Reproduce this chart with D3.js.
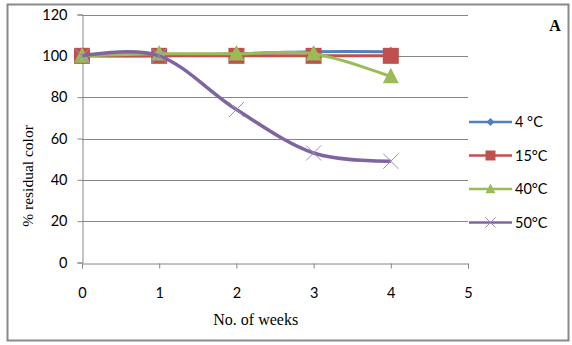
<!DOCTYPE html>
<html>
<head>
<meta charset="utf-8">
<script src="https://cdn.jsdelivr.net/npm/d3@7"></script>
<style>
  body { margin: 0; background: #fff; }
  svg { display: block; }
  .tick text { font-family: Lato, "Open Sans", sans-serif; font-size: 14.5px; fill: #000; }
</style>
</head>
<body>
<svg id="chart" width="572" height="345"></svg>
<script>
// weeks of storage and % residual colour at each temperature
const weeks = [0, 1, 2, 3, 4];
const temps = ["4 °C", "15°C", "40°C", "50°C"];
const c4 = [100, 100, 101, 102, 102];
const c15 = [100, 100, 100, 100, 100];
const c40 = [100, 101, 101, 101, 90];
const c50 = [100, 100, 74, 53, 49];
const yTicks = [0, 20, 40, 60, 80, 100, 120];
const xTicks = [0, 1, 2, 3, 4, 5];

const colors = ["#4F81BD", "#C0504D", "#9BBB59", "#8064A2"];
const shapes = ["diamond", "square", "triangle", "cross"];
const seriesVals = [c4, c15, c40, c50];

const svg = d3.select("#chart");

// outer frame
svg.append("rect")
  .attr("x", 7.5).attr("y", 4.5)
  .attr("width", 561).attr("height", 336)
  .attr("fill", "#fff").attr("stroke", "#8a8a8a").attr("stroke-width", 2);

const x = d3.scaleLinear().domain([0, 5]).range([82, 468]);
const y = d3.scaleLinear().domain([0, 120]).range([262.5, 14.5]);

// gridlines
svg.append("g")
  .selectAll("line")
  .data(yTicks.slice(1))
  .join("line")
  .attr("x1", x(0)).attr("x2", x(5))
  .attr("y1", d => Math.round(y(d)) + 0.5).attr("y2", d => Math.round(y(d)) + 0.5)
  .attr("stroke", "#868686").attr("stroke-width", 1);

// y axis
const yAxis = svg.append("g")
  .attr("transform", `translate(${x(0) + 0.5},0)`)
  .call(d3.axisLeft(y).tickValues(yTicks).tickSize(5).tickPadding(10));
yAxis.selectAll("line, path").attr("stroke", "#868686");

// x axis
const xAxis = svg.append("g")
  .attr("transform", `translate(0,${Math.round(y(0)) + 0.5})`)
  .call(d3.axisBottom(x).tickValues(xTicks).tickFormat(d3.format("d"))
    .tickSize(5).tickSizeOuter(5).tickPadding(19));
xAxis.selectAll("line, path").attr("stroke", "#868686");

// axis titles
svg.append("text")
  .attr("x", x(2.25)).attr("y", 325)
  .attr("text-anchor", "middle")
  .attr("font-family", "'Liberation Serif', 'Times New Roman', serif")
  .attr("font-size", 16)
  .text("No. of weeks");

svg.append("text")
  .attr("transform", "translate(33,176) rotate(-90)")
  .attr("text-anchor", "middle")
  .attr("font-family", "'Liberation Serif', 'Times New Roman', serif")
  .attr("font-size", 15.5)
  .text("% residual color");

svg.append("text")
  .attr("x", 555).attr("y", 31)
  .attr("text-anchor", "middle")
  .attr("font-family", "'Liberation Serif', 'Times New Roman', serif")
  .attr("font-size", 16)
  .attr("font-weight", "bold")
  .text("A");

const line = d3.line()
  .x((d, i) => x(weeks[i]))
  .y(d => y(d))
  .curve(d3.curveCardinal.tension(0));

function marker(g, shape, color, cx, cy, s) {
  if (shape === "diamond") {
    g.append("path")
      .attr("d", `M${cx},${cy - s}L${cx + s},${cy}L${cx},${cy + s}L${cx - s},${cy}Z`)
      .attr("fill", color);
  } else if (shape === "square") {
    g.append("rect")
      .attr("x", cx - s).attr("y", cy - s)
      .attr("width", 2 * s).attr("height", 2 * s)
      .attr("fill", color);
  } else if (shape === "triangle") {
    g.append("path")
      .attr("d", `M${cx},${cy - s * 1.1}L${cx + s},${cy + s * 0.85}L${cx - s},${cy + s * 0.85}Z`)
      .attr("fill", color);
  } else {
    g.append("path")
      .attr("d", `M${cx - s},${cy - s}L${cx + s},${cy + s}M${cx - s},${cy + s}L${cx + s},${cy - s}`)
      .attr("stroke", "#9d88c0").attr("stroke-width", 1).attr("fill", "none");
  }
}

const markSize = [5, 8, 8, 7.5];

seriesVals.forEach((vals, k) => {
  const g = svg.append("g");
  g.append("path")
    .datum(vals)
    .attr("d", line)
    .attr("fill", "none")
    .attr("stroke", colors[k])
    .attr("stroke-width", k === 3 ? 3.5 : 3);
  vals.forEach((v, i) => marker(g, shapes[k], colors[k], x(weeks[i]), y(v), markSize[k]));
});

// legend
const legend = svg.append("g");
temps.forEach((t, k) => {
  const ly = 122 + k * 33.5;
  legend.append("line")
    .attr("x1", 469).attr("x2", 512)
    .attr("y1", ly).attr("y2", ly)
    .attr("stroke", colors[k]).attr("stroke-width", 2.5);
  marker(legend, shapes[k], colors[k], 490.5, ly, [4, 5, 5, 5][k]);
  legend.append("text")
    .attr("x", 515).attr("y", ly + 5)
    .attr("font-family", "Lato, 'Open Sans', sans-serif")
    .attr("font-size", 14.5)
    .text(t);
});
</script>
</body>
</html>
